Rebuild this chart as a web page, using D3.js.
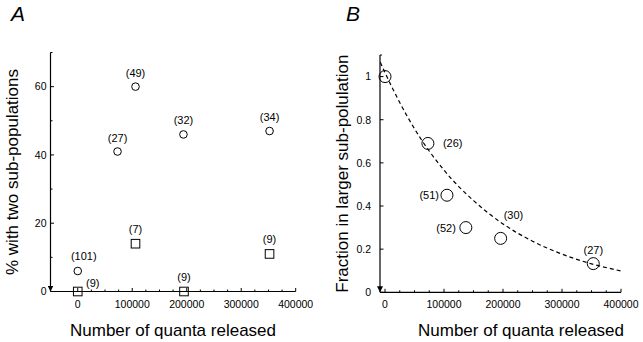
<!DOCTYPE html>
<html><head><meta charset="utf-8">
<script src="https://cdn.jsdelivr.net/npm/d3@7"></script>
<style>
body{margin:0;background:#fff;}
svg{display:block;font-family:"Liberation Sans",Arial,Helvetica,sans-serif;}
</style></head>
<body><svg id="c" width="643" height="342"></svg>
<script>
// Panel A data
const aCircleX = [0, 73000, 106000, 194000, 352000];
const aCircleY = [6, 41, 60, 46, 47];
const aCircleN = ["(101)", "(27)", "(49)", "(32)", "(34)"];
const aSquareX = [0, 106000, 195000, 352000];
const aSquareY = [0, 14, 0, 11];
const aSquareN = ["(9)", "(7)", "(9)", "(9)"];
// Panel B data
const bX = [0, 72700, 105000, 137000, 196000, 353000];
const bY = [1.0, 0.69, 0.45, 0.30, 0.25, 0.133];
const bN = ["", "(26)", "(51)", "(52)", "(30)", "(27)"];
// dashed fitted curve
const fitX = [-8000, 0, 50000, 100000, 150000, 200000, 250000, 300000, 350000, 400000];
const fitY = [1.066, 1.018, 0.758, 0.566, 0.425, 0.317, 0.237, 0.177, 0.132, 0.099];
// ticks
const xTicks = [0, 100000, 200000, 300000, 400000];
const aYTicks = [0, 20, 40, 60];
const bYTicks = [0, 0.2, 0.4, 0.6, 0.8, 1];

const svg = d3.select("#c");
svg.append("defs").append("marker").attr("id","arr").attr("viewBox","0 0 10 10")
  .attr("refX",10).attr("refY",5).attr("markerWidth",6).attr("markerHeight",6)
  .attr("orient","auto").attr("markerUnits","userSpaceOnUse")
  .append("path").attr("d","M0,0L10,5L0,10z").attr("fill","#000");

const tickFont = 10.5, numFont = 11, titleFont = 17;

function panel(o){
  const g = svg.append("g");
  const x = d3.scaleLinear().domain(o.xDom).range(o.xRange);
  const y = d3.scaleLinear().domain(o.yDom).range(o.yRange);
  const y0 = y(0), xL = o.xRange[0];
  // x axis
  g.append("line").attr("x1",xL).attr("x2",o.xRange[1]).attr("y1",y0).attr("y2",y0).attr("stroke","#000").attr("stroke-width",1.2);
  const minor = d3.range(0, 400001, 25000);
  g.selectAll(".xm").data(minor).join("line").attr("x1",d=>x(d)).attr("x2",d=>x(d))
    .attr("y1",y0).attr("y2",d=>y0-(d%100000===0?3.5:2)).attr("stroke","#000").attr("stroke-width",1);
  g.selectAll(".xl").data(xTicks).join("text").attr("x",d=>x(d)).attr("y",y0+16)
    .attr("text-anchor","middle").attr("font-size",tickFont).text(d=>d);
  // y axis
  g.append("line").attr("x1",xL).attr("x2",xL).attr("y1",o.yRange[1]).attr("y2",y0)
    .attr("stroke","#000").attr("stroke-width",1.2).attr("marker-end","url(#arr)");
  g.selectAll(".yt").data(o.yMinor).join("line").attr("x1",xL).attr("x2",d=>xL+(o.yTicks.includes(d)?3.5:2))
    .attr("y1",d=>y(d)).attr("y2",d=>y(d)).attr("stroke","#000").attr("stroke-width",1);
  g.selectAll(".yl").data(o.yTicks).join("text").attr("x",xL-o.yLabGap).attr("y",d=>y(d)+3.8)
    .attr("text-anchor","end").attr("font-size",tickFont).text(o.yFmt);
  // titles
  g.append("text").attr("x",o.xTitleX).attr("y",336).attr("text-anchor","middle").attr("font-size",titleFont).text("Number of quanta released");
  g.append("text").attr("transform",`translate(${o.yTitleX},${(o.yRange[0]+o.yRange[1])/2}) rotate(-90)`)
    .attr("text-anchor","middle").attr("font-size",titleFont).text(o.yTitle);
  g.append("text").attr("x",o.letterX).attr("y",21).attr("font-size",21).attr("font-style","italic").text(o.letter);
  return {g,x,y};
}

// Panel A
const A = panel({xDom:[-50000,400000], xRange:[50.5,295.7], yDom:[0,70], yRange:[291.5,52.5],
  yTicks:aYTicks, yMinor:d3.range(0,71,10), yFmt:d=>d, yLabGap:4, xTitleX:173, yTitleX:18,
  yTitle:"% with two sub-populations", letter:"A", letterX:11});
A.g.selectAll(".ac").data(aCircleX).join("circle").attr("cx",d=>A.x(d)).attr("cy",(d,i)=>A.y(aCircleY[i]))
  .attr("r",3.8).attr("fill","none").attr("stroke","#000").attr("stroke-width",1);
A.g.selectAll(".as").data(aSquareX).join("rect").attr("x",d=>A.x(d)-4.3).attr("y",(d,i)=>A.y(aSquareY[i])-4.3)
  .attr("width",8.6).attr("height",8.6).attr("fill","none").attr("stroke","#000").attr("stroke-width",1);
const aCOff = [[6,-11],[0,-10],[0,-10],[0,-10],[0,-10]];
A.g.selectAll(".acl").data(aCircleN).join("text").attr("x",(d,i)=>A.x(aCircleX[i])+aCOff[i][0])
  .attr("y",(d,i)=>A.y(aCircleY[i])+aCOff[i][1]).attr("text-anchor","middle").attr("font-size",numFont).text(d=>d);
const aSOff = [[15,-5],[0,-11],[0,-11],[0,-11]];
A.g.selectAll(".asl").data(aSquareN).join("text").attr("x",(d,i)=>A.x(aSquareX[i])+aSOff[i][0])
  .attr("y",(d,i)=>A.y(aSquareY[i])+aSOff[i][1]).attr("text-anchor","middle").attr("font-size",numFont).text(d=>d);

// Panel B
const B = panel({xDom:[-8500,400000], xRange:[380,621], yDom:[0,1.1], yRange:[292.3,55],
  yTicks:bYTicks, yMinor:[0,0.2,0.4,0.6,0.8,1,1.1], yFmt:d=>d, yLabGap:9, xTitleX:521, yTitleX:348,
  yTitle:"Fraction in larger sub-polulation", letter:"B", letterX:346});
B.g.append("path").datum(fitX.map((d,i)=>[d,fitY[i]]))
  .attr("d",d3.line().x(d=>B.x(d[0])).y(d=>B.y(d[1])).curve(d3.curveMonotoneX))
  .attr("fill","none").attr("stroke","#000").attr("stroke-width",1.2).attr("stroke-dasharray","4,3");
B.g.selectAll(".bc").data(bX).join("circle").attr("cx",d=>B.x(d)).attr("cy",(d,i)=>B.y(bY[i]))
  .attr("r",6).attr("fill","none").attr("stroke","#000").attr("stroke-width",1);
const bOff = [[0,0,"middle"],[15,4,"start"],[-8,4,"end"],[-10,4,"end"],[3,-19,"start"],[0,-10,"middle"]];
B.g.selectAll(".bl").data(bN).join("text").attr("x",(d,i)=>B.x(bX[i])+bOff[i][0])
  .attr("y",(d,i)=>B.y(bY[i])+bOff[i][1]).attr("text-anchor",(d,i)=>bOff[i][2]).attr("font-size",numFont).text(d=>d);
</script></body></html>
